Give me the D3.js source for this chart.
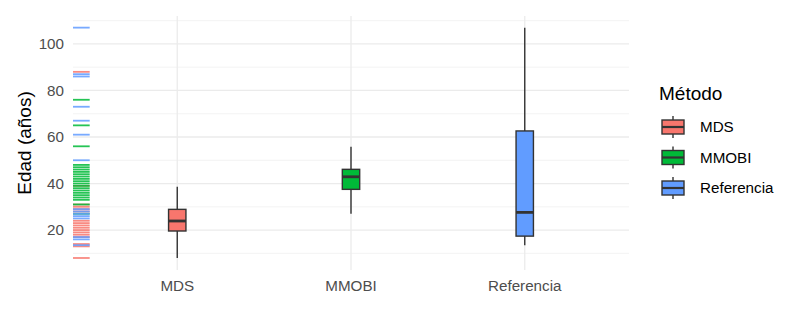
<!DOCTYPE html>
<html>
<head>
<meta charset="utf-8">
<script src="https://cdn.jsdelivr.net/npm/d3@7"></script>
<style>
  body { margin: 0; background: #fff; }
  svg { font-family: "Liberation Sans", Arial, sans-serif; }
</style>
</head>
<body>
<svg id="chart" width="800" height="316"></svg>
<script>
// categories and colours
const methods = ['MDS', 'MMOBI', 'Referencia'];
const colors = ['#F8766D', '#00BA38', '#619CFF'];

// box statistics (years)
const whiskerLow = [8, 27, 13.5];
const q1 = [19.6, 37.5, 17.4];
const medians = [23.9, 42.9, 27.6];
const q3 = [28.9, 46.1, 62.6];
const whiskerHigh = [38.6, 55.8, 107];

// rug values per method
const rugMDS = [88, 39, 31, 30, 29, 28, 24, 23, 22, 21, 20, 19, 18, 17, 14, 13, 8];
const rugMMOBI = [76, 65, 56, 48, 47, 46, 45, 44, 43, 42, 41, 40, 39, 38, 37, 36, 35, 34, 33, 31, 27];
const rugRef = [107, 87, 86, 73, 67, 61, 50, 29, 28, 27, 26, 25, 17, 16, 13.5];

const yTicks = [20, 40, 60, 80, 100];
const yMinor = [10, 30, 50, 70, 90, 110];

let svg = d3.select('#chart'),
  margin = {top: 16, left: 73, right: 171, bottom: 46},
  width = +svg.attr('width') - margin.left - margin.right,
  height = +svg.attr('height') - margin.top - margin.bottom;

let g = svg.append('g').attr('transform', 'translate(' + margin.left + ',' + margin.top + ')');

let x = d3.scalePoint().domain(methods).range([0, width]).padding(0.6);
let y = d3.scaleLinear().domain([2.84, 112]).range([height, 0]);

// grid
g.selectAll('.minor').data(yMinor).enter().append('line')
  .attr('x1', 0).attr('x2', width)
  .attr('y1', d => y(d)).attr('y2', d => y(d))
  .style('stroke', '#f0f0f0').style('stroke-width', 0.8);
g.selectAll('.major').data(yTicks).enter().append('line')
  .attr('x1', 0).attr('x2', width)
  .attr('y1', d => y(d)).attr('y2', d => y(d))
  .style('stroke', '#ebebeb').style('stroke-width', 1.3);
g.selectAll('.vgrid').data(methods).enter().append('line')
  .attr('x1', d => x(d)).attr('x2', d => x(d))
  .attr('y1', 0).attr('y2', height)
  .style('stroke', '#ebebeb').style('stroke-width', 1.3);

// rug
const rugs = [rugMDS, rugMMOBI, rugRef];
rugs.forEach(function(vals, i) {
  g.selectAll('.rug' + i).data(vals).enter().append('line')
    .attr('x1', 0).attr('x2', width * 0.03)
    .attr('y1', d => y(d)).attr('y2', d => y(d))
    .style('stroke', colors[i]).style('stroke-width', 1.8).style('opacity', 0.85);
});

// boxes
let bw = x.step() * 0.1;
methods.forEach(function(m, i) {
  let cx = x(m);
  g.append('line')
    .attr('x1', cx).attr('x2', cx)
    .attr('y1', y(whiskerLow[i])).attr('y2', y(whiskerHigh[i]))
    .style('stroke', '#333333').style('stroke-width', 1.4);
  g.append('rect')
    .attr('x', cx - bw / 2).attr('width', bw)
    .attr('y', y(q3[i])).attr('height', y(q1[i]) - y(q3[i]))
    .style('fill', colors[i]).style('stroke', '#333333').style('stroke-width', 1.4);
  g.append('line')
    .attr('x1', cx - bw / 2).attr('x2', cx + bw / 2)
    .attr('y1', y(medians[i])).attr('y2', y(medians[i]))
    .style('stroke', '#333333').style('stroke-width', 2.8);
});

// axes text
g.selectAll('.ylab').data(yTicks).enter().append('text')
  .attr('x', -9).attr('y', d => y(d)).attr('dy', '0.35em')
  .attr('text-anchor', 'end').attr('fill', '#4d4d4d').style('font-size', '15.2px')
  .text(d => d);
g.selectAll('.xlab').data(methods).enter().append('text')
  .attr('x', d => x(d)).attr('y', height + 21)
  .attr('text-anchor', 'middle').attr('fill', '#4d4d4d').style('font-size', '15.2px')
  .text(d => d);

svg.append('text')
  .attr('transform', 'translate(31,' + (margin.top + height / 2) + ') rotate(-90)')
  .attr('text-anchor', 'middle').attr('fill', '#000').style('font-size', '19px')
  .text('Edad (años)');

// legend
let leg = svg.append('g').attr('transform', 'translate(659,0)');
leg.append('text').attr('x', 0).attr('y', 100).style('font-size', '19px').attr('fill', '#000').text('Método');
methods.forEach(function(m, i) {
  let cy = 127 + i * 30.5;
  let k = leg.append('g');
  k.append('line').attr('x1', 14).attr('x2', 14).attr('y1', cy - 11).attr('y2', cy + 11)
    .style('stroke', '#333333').style('stroke-width', 1.4);
  k.append('rect').attr('x', 3).attr('width', 22).attr('y', cy - 7).attr('height', 14)
    .style('fill', colors[i]).style('stroke', '#333333').style('stroke-width', 1.4);
  k.append('line').attr('x1', 3).attr('x2', 25).attr('y1', cy).attr('y2', cy)
    .style('stroke', '#333333').style('stroke-width', 2.2);
  leg.append('text').attr('x', 41).attr('y', cy).attr('dy', '0.35em')
    .style('font-size', '15.2px').attr('fill', '#000').text(m);
});
</script>
</body>
</html>
